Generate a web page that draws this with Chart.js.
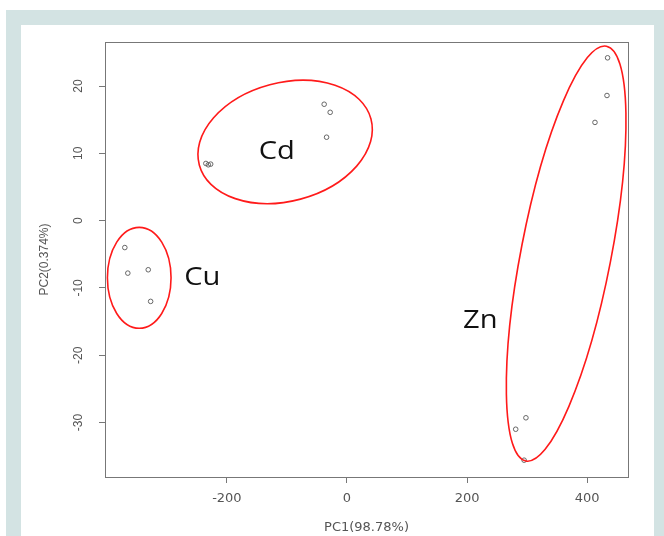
<!DOCTYPE html>
<html>
<head>
<meta charset="utf-8">
<script src="https://cdn.jsdelivr.net/npm/chart.js@4"></script>
<style>
  body { margin: 0; background: #fff; }
  #frame { position: absolute; left: 6px; top: 10px; width: 658px; height: 526px; background: #d3e3e3; }
  #panel { position: absolute; left: 21px; top: 25px; width: 633px; height: 511px; background: #fff; }
  #pca { position: absolute; left: 0; top: 0; }
</style>
</head>
<body>
<div id="frame"></div>
<div id="panel"></div>
<canvas id="pca" width="664" height="536"></canvas>
<script>
// PCA scores per metal
const cuX = [-370, -365, -331, -327];
const cuY = [-4.0, -7.8, -7.3, -12.0];
const cdX = [-235, -231, -227, -38, -28, -34];
const cdY = [8.5, 8.3, 8.4, 17.3, 16.1, 12.4];
const znX = [434, 433, 413, 298, 281, 295];
const znY = [24.2, 18.6, 14.6, -29.3, -31.0, -35.6];

const xTicks = [-200, 0, 200, 400];
const yTicks = [-30, -20, -10, 0, 10, 20];

// group ellipses (centre in data units, semi-axes in data units, tilt in degrees)
const ellipseNames = ["Cu", "Cd", "Zn"];
const ellipseCx = [-346, -103, 365];
const ellipseCy = [-8.5, 11.7, -4.9];
const ellipseRx = [53, 148, 75];
const ellipseRy = [7.5, 8.8, 31.4];
const ellipseTilt = [0, -15, 11];

// group label anchors (data units)
const labelX = [-241, -117, 222];
const labelY = [-9.55, 9.17, -16.0];

const toPts = (xs, ys) => xs.map((x, i) => ({ x, y: ys[i] }));

const boxPlugin = {
  id: "rbox",
  afterDatasetsDraw(chart) {
    const { ctx, chartArea: a, scales: { x, y } } = chart;
    ctx.save();
    ctx.strokeStyle = "#777";
    ctx.lineWidth = 1;
    ctx.strokeRect(a.left + 0.5, a.top + 0.5, a.right - a.left, a.bottom - a.top);

    // ellipses
    ctx.strokeStyle = "#ff1a1a";
    ctx.lineWidth = 1.6;
    ellipseNames.forEach((n, i) => {
      const cx = x.getPixelForValue(ellipseCx[i]);
      const cy = y.getPixelForValue(ellipseCy[i]);
      const rx = Math.abs(x.getPixelForValue(ellipseCx[i] + ellipseRx[i]) - cx);
      const ry = Math.abs(y.getPixelForValue(ellipseCy[i] + ellipseRy[i]) - cy);
      ctx.beginPath();
      ctx.ellipse(cx, cy, rx, ry, (ellipseTilt[i] * Math.PI) / 180, 0, Math.PI * 2);
      ctx.stroke();
    });

    // group labels
    ctx.fillStyle = "#111";
    ctx.font = "26px 'Open Sans'";
    ctx.textAlign = "center";
    ctx.textBaseline = "alphabetic";
    ellipseNames.forEach((n, i) => {
      ctx.save();
      ctx.translate(x.getPixelForValue(labelX[i]), y.getPixelForValue(labelY[i]));
      ctx.scale(1.12, 1);
      ctx.fillText(n, 0, 0);
      ctx.restore();
    });

    // rotated y tick labels
    ctx.fillStyle = "#555";
    ctx.font = "12px 'Liberation Sans'";
    ctx.textBaseline = "middle";
    y.ticks.forEach((t) => {
      ctx.save();
      ctx.translate(79, y.getPixelForValue(t.value));
      ctx.rotate(-Math.PI / 2);
      ctx.fillText(String(t.value), 0, 0);
      ctx.restore();
    });
    ctx.restore();
  },
};

const pointStyle = {
  pointStyle: "circle",
  pointRadius: 2.3,
  pointBorderWidth: 1,
  borderColor: "#666",
  backgroundColor: "rgba(0,0,0,0)",
};

new Chart(document.getElementById("pca").getContext("2d"), {
  type: "scatter",
  data: {
    datasets: [
      { label: "Cu", data: toPts(cuX, cuY), ...pointStyle },
      { label: "Cd", data: toPts(cdX, cdY), ...pointStyle },
      { label: "Zn", data: toPts(znX, znY), ...pointStyle },
    ],
  },
  options: {
    responsive: false,
    animation: false,
    layout: { padding: { left: 30, top: 42, right: 36, bottom: 0 } },
    plugins: { legend: { display: false }, tooltip: { enabled: false } },
    scales: {
      x: {
        type: "linear",
        min: -403,
        max: 468,
        afterBuildTicks: (s) => { s.ticks = xTicks.map((v) => ({ value: v })); },
        afterFit: (s) => { s.height = 59; },
        grid: { drawOnChartArea: false, drawTicks: true, tickLength: 6, color: "#777" },
        border: { display: true, color: "#777" },
        ticks: { color: "#555", font: { family: "DejaVu Sans", size: 13 }, padding: 8, maxRotation: 0 },
        title: {
          display: true,
          text: "PC1(98.78%)",
          color: "#555",
          font: { family: "DejaVu Sans", size: 13 },
          padding: { top: 0, bottom: 1 },
        },
      },
      y: {
        type: "linear",
        min: -38.1,
        max: 26.55,
        afterBuildTicks: (s) => { s.ticks = yTicks.map((v) => ({ value: v })); },
        afterFit: (s) => { s.width = 75; },
        grid: { drawOnChartArea: false, drawTicks: true, tickLength: 6, color: "#777" },
        border: { display: true, color: "#777" },
        ticks: { color: "rgba(0,0,0,0)", font: { size: 12 } },
        title: {
          display: true,
          text: "PC2(0.374%)",
          color: "#555",
          font: { family: "Liberation Sans", size: 12 },
          padding: { top: 7, bottom: 0 },
        },
      },
    },
  },
  plugins: [boxPlugin],
});
</script>
</body>
</html>
